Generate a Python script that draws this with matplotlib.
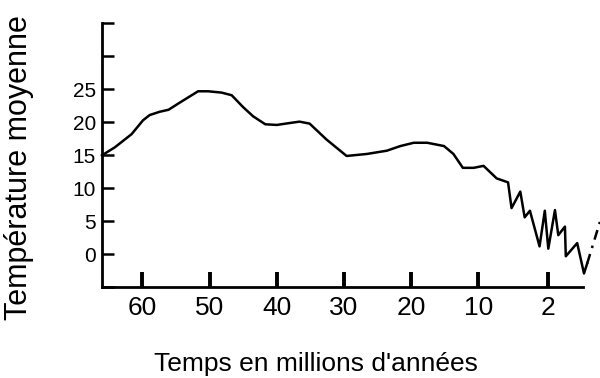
import numpy as np
import matplotlib
matplotlib.use("Agg")
import matplotlib.pyplot as plt

plt.rcParams['font.family'] = ['Liberation Sans', 'DejaVu Sans']

# Data (age in Ma, temperature)
ages = [66.0, 64.1, 61.6, 59.9, 58.9, 57.4, 56.1, 54.4, 51.7, 50.2, 48.2, 46.7,
        45.0, 43.5, 41.7, 40.0, 38.0, 36.6, 35.1, 32.6, 29.6, 26.6, 23.6, 21.6,
        19.6, 17.6, 15.1, 13.7, 12.3, 10.7, 9.4, 7.9, 6.6, 6.2, 5.2, 4.7, 4.1,
        3.0, 2.4, 2.0, 1.62, 1.43, 1.05, 1.0, 0.35, -0.04, -0.22]
temps = [15.0, 16.2, 18.2, 20.3, 21.1, 21.6, 21.9, 23.0, 24.7, 24.7, 24.5, 24.1,
         22.3, 20.9, 19.7, 19.6, 19.9, 20.1, 19.8, 17.4, 14.9, 15.2, 15.7, 16.4,
         16.9, 16.9, 16.4, 15.2, 13.1, 13.1, 13.4, 11.5, 10.9, 7.0, 9.5, 5.6, 6.6,
         1.2, 6.6, 0.85, 6.7, 2.9, 4.2, -0.3, 1.7, -2.9, -1.4]
future_ages = [-0.22, -0.95]
future_temps = [-1.4, 4.9]

xticks = [60, 50, 40, 30, 20, 10, 2]
xticklabels = ['60', '50', '40', '30', '20', '10', '2']
yticks = [-5, 0, 5, 10, 15, 20, 25, 30, 35]
yticklabels = ['', '0', '5', '10', '15', '20', '25', '', '']

# piecewise (non-uniform) time axis; forward is increasing in age
anchor_age = np.array([-5.0, 0.0, 2.0, 10.0, 66.0])
anchor_pos = -np.array([583.3 + 5 * 17.5, 583.3, 548.3, 478.3, 102.0])

def fwd(a):
    a = np.asarray(a, dtype=float)
    return np.interp(a, anchor_age, anchor_pos)

def inv(p):
    p = np.asarray(p, dtype=float)
    return np.interp(p, anchor_pos, anchor_age)

W, H = 600, 378
fig = plt.figure(figsize=(6, 3.78), dpi=100)
left, right, top, bottom = 102.0, 583.3, 23.3, 287.3
ax = fig.add_axes([left / W, 1 - bottom / H, (right - left) / W, (bottom - top) / H])
ax.set_xscale('function', functions=(fwd, inv))
ax.set_xlim(66, 0)
ax.set_ylim(-5, 35)

ax.plot(ages, temps, color='black', lw=1.8, solid_joinstyle='round', clip_on=False)
ax.plot(future_ages, future_temps, color='black', lw=1.8,
        linestyle=(0, (4, 2.5, 1, 2.5)), clip_on=False)

for s in ['top', 'right']:
    ax.spines[s].set_visible(False)
for s in ['left', 'bottom']:
    ax.spines[s].set_linewidth(2.0)

ax.set_xticks(xticks)
ax.set_xticklabels(xticklabels, fontsize=19)
ax.xaxis.set_minor_locator(matplotlib.ticker.NullLocator())
ax.set_yticks(yticks)
ax.set_yticklabels(yticklabels, fontsize=15)
ax.tick_params(axis='x', direction='in', length=10.5, width=2.8, pad=6)
ax.tick_params(axis='y', direction='in', length=8.6, width=1.8, pad=4.5)

fig.text(316 / W, 1 - 371.5 / H, "Temps en millions d'années", fontsize=19,
         ha='center', va='baseline')
fig.text(26.7 / W, 1 - 167.5 / H, "Température moyenne", fontsize=22,
         ha='center', va='baseline', rotation=90, rotation_mode='anchor')

fig.savefig('out.png', dpi=100)
